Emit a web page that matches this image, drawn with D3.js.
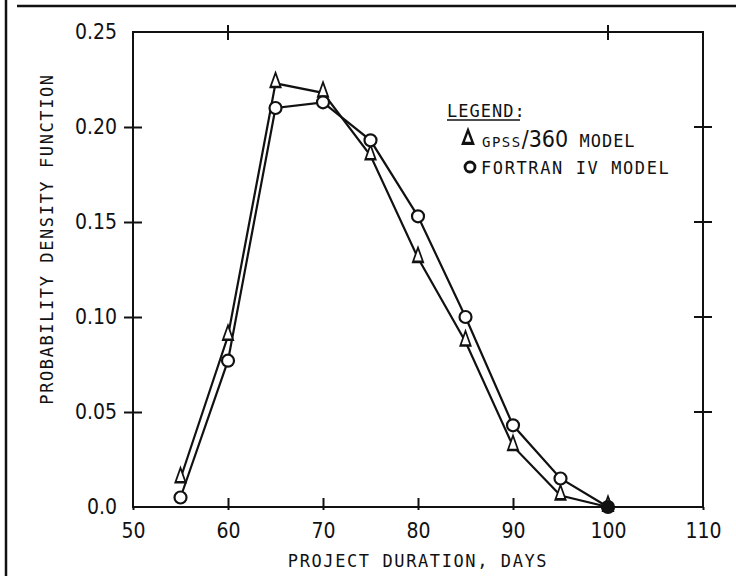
<!DOCTYPE html>
<html>
<head>
<meta charset="utf-8">
<script src="https://cdn.jsdelivr.net/npm/d3@7"></script>
<style>
  body { margin: 0; background: #fff; }
  svg { display: block; }
  .tick-label { font-family: "Liberation Sans Narrow", "DejaVu Sans Condensed", sans-serif; font-size: 21px; fill: #111; }
  .mono { font-family: "DejaVu Sans Mono", "Liberation Mono", monospace; fill: #111; }
</style>
</head>
<body>
<svg id="chart" width="736" height="576"></svg>
<script>
// project duration (days)
const durations = [55, 60, 65, 70, 75, 80, 85, 90, 95, 100];
// GPSS/360 model (triangles)
const gpssValues = [0.015, 0.090, 0.223, 0.218, 0.185, 0.131, 0.087, 0.032, 0.006, 0.000];
// FORTRAN IV model (circles)
const fortranValues = [0.005, 0.077, 0.210, 0.213, 0.193, 0.153, 0.100, 0.043, 0.015, 0.000];

const xTicks = [50, 60, 70, 80, 90, 100, 110];
const yTicks = [0.0, 0.05, 0.10, 0.15, 0.20, 0.25];
const yTickLabels = ["0.0", "0.05", "0.10", "0.15", "0.20", "0.25"];
const topTicks = [60, 100];

const svg = d3.select("#chart");
const m = { left: 133, right: 703, top: 32, bottom: 507 };

const x = d3.scaleLinear().domain([50, 110]).range([m.left, m.right]);
const y = d3.scaleLinear().domain([0, 0.25]).range([m.bottom, m.top]);

// page border lines
svg.append("line").attr("x1", 6).attr("x2", 6).attr("y1", 0).attr("y2", 576)
  .attr("stroke", "#111").attr("stroke-width", 2.5);
svg.append("line").attr("x1", 17).attr("x2", 736).attr("y1", 6).attr("y2", 6)
  .attr("stroke", "#111").attr("stroke-width", 2.5);

// plot frame
svg.append("rect")
  .attr("x", m.left).attr("y", m.top)
  .attr("width", m.right - m.left).attr("height", m.bottom - m.top)
  .attr("fill", "none").attr("stroke", "#111").attr("stroke-width", 2);

// bottom axis
const xAxis = svg.append("g").attr("transform", `translate(0,${m.bottom})`)
  .call(d3.axisBottom(x).tickValues(xTicks).tickSize(-9).tickPadding(12).tickFormat(d3.format("d")));
xAxis.select(".domain").remove();
xAxis.selectAll(".tick line").attr("stroke", "#111").attr("stroke-width", 2)
  .attr("y2", d => (d === 50 || d === 110) ? 0 : -9).attr("y1", 3);
xAxis.selectAll(".tick text").attr("class", "tick-label").attr("font-size", null).attr("font-family", null)
  .attr("dy", "0.9em");

// left axis
const yAxis = svg.append("g").attr("transform", `translate(${m.left},0)`)
  .call(d3.axisLeft(y).tickValues(yTicks).tickSize(8).tickPadding(14).tickFormat((d, i) => yTickLabels[i]));
yAxis.select(".domain").remove();
yAxis.selectAll(".tick line").attr("stroke", "#111").attr("stroke-width", 2)
  .attr("x1", (d, i) => (i === 0 || i === yTicks.length - 1) ? 0 : 9)
  .attr("x2", (d, i) => (i === 0 || i === yTicks.length - 1) ? 0 : -9);
yAxis.selectAll(".tick text").attr("class", "tick-label").attr("font-size", null).attr("font-family", null)
  .attr("x", -16);

// right axis ticks
const rightTicks = yTicks.slice(1, -1);
svg.append("g").selectAll("line").data(rightTicks).join("line")
  .attr("x1", m.right - 9).attr("x2", m.right + 9)
  .attr("y1", d => y(d)).attr("y2", d => y(d))
  .attr("stroke", "#111").attr("stroke-width", 2);

// top axis ticks
svg.append("g").selectAll("line").data(topTicks).join("line")
  .attr("x1", d => x(d)).attr("x2", d => x(d))
  .attr("y1", m.top - 7).attr("y2", m.top + 8)
  .attr("stroke", "#111").attr("stroke-width", 2);

// axis titles
svg.append("text").attr("class", "mono")
  .attr("x", 418).attr("y", 567).attr("text-anchor", "middle")
  .attr("font-size", 17).attr("letter-spacing", 1.6)
  .text("PROJECT DURATION, DAYS");

svg.append("text").attr("class", "mono")
  .attr("transform", "translate(53,239) rotate(-90)")
  .attr("text-anchor", "middle")
  .attr("font-size", 17).attr("letter-spacing", 1.6)
  .text("PROBABILITY DENSITY FUNCTION");

// series lines
const line = d3.line().x((d, i) => x(durations[i])).y(d => y(d));
svg.append("path").datum(gpssValues).attr("d", line)
  .attr("fill", "none").attr("stroke", "#111").attr("stroke-width", 2.2);
svg.append("path").datum(fortranValues).attr("d", line)
  .attr("fill", "none").attr("stroke", "#111").attr("stroke-width", 2.2);

// markers
const tri = d3.symbol().type(d3.symbolTriangle).size(70);
svg.append("g").selectAll("path").data(gpssValues).join("path")
  .attr("d", tri)
  .attr("transform", (d, i) => `translate(${x(durations[i])},${y(d) - 1}) scale(0.8,1.3)`)
  .attr("fill", "#fff").attr("stroke", "#111").attr("stroke-width", 2);

svg.append("g").selectAll("circle").data(fortranValues).join("circle")
  .attr("cx", (d, i) => x(durations[i])).attr("cy", d => y(d)).attr("r", 6)
  .attr("fill", "#fff").attr("stroke", "#111").attr("stroke-width", 2.2);

// endpoint at 100 looks like a filled blob
svg.append("circle").attr("cx", x(durations[9])).attr("cy", y(gpssValues[9])).attr("r", 6)
  .attr("fill", "#111");

// legend
const lg = svg.append("g");
lg.append("text").attr("class", "mono").attr("x", 447).attr("y", 117)
  .attr("font-size", 17).attr("letter-spacing", 1).text("LEGEND:");
lg.append("line").attr("x1", 447).attr("x2", 520).attr("y1", 120).attr("y2", 120)
  .attr("stroke", "#111").attr("stroke-width", 1.5);

lg.append("path").attr("d", d3.symbol().type(d3.symbolTriangle).size(60))
  .attr("transform", "translate(468,139) scale(0.85,1.3)")
  .attr("fill", "none").attr("stroke", "#111").attr("stroke-width", 2.6);
const t1 = lg.append("text").attr("class", "mono").attr("x", 482).attr("y", 147);
t1.append("tspan").attr("font-size", 14).attr("letter-spacing", 1.5).text("GPSS");
t1.append("tspan").attr("font-size", 23).attr("font-family", "Liberation Sans Narrow, DejaVu Sans Condensed, sans-serif").text("/360");
t1.append("tspan").attr("font-size", 17).attr("letter-spacing", 1).text(" MODEL");

lg.append("circle").attr("cx", 470).attr("cy", 167).attr("r", 5)
  .attr("fill", "none").attr("stroke", "#111").attr("stroke-width", 2.8);
lg.append("text").attr("class", "mono").attr("x", 481).attr("y", 174)
  .attr("font-size", 17).attr("letter-spacing", 1.6).text("FORTRAN IV MODEL");
</script>
</body>
</html>
